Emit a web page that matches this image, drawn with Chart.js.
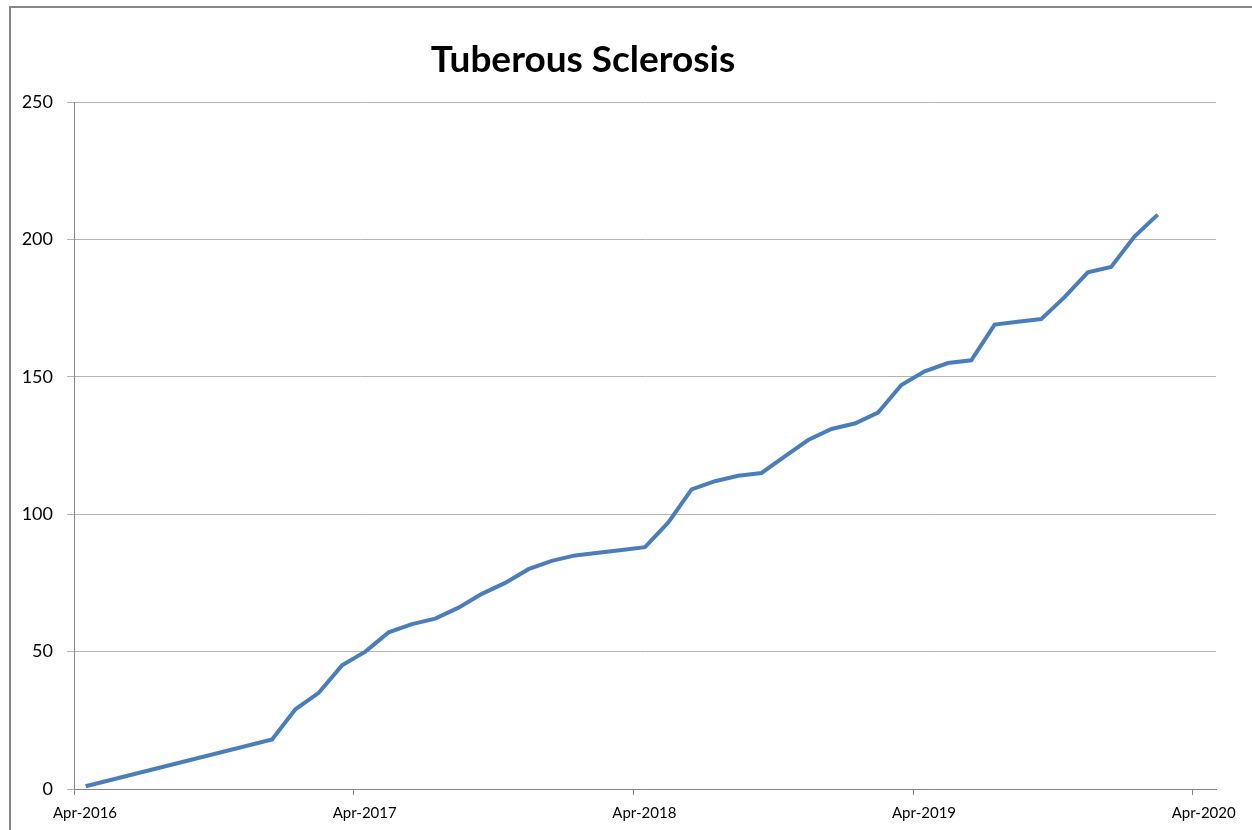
<!DOCTYPE html>
<html>
<head>
<meta charset="utf-8">
<script src="https://cdn.jsdelivr.net/npm/chart.js@4.4.1/dist/chart.umd.min.js"></script>
<style>
  html, body { margin: 0; padding: 0; background: #fff; }
  #wrap { position: relative; width: 1252px; height: 830px; overflow: hidden; }
  #frame { position: absolute; left: 9px; top: 6px; width: 1300px; height: 900px;
           border-left: 2px solid #878787; border-top: 2px solid #878787; }
  #title { position: absolute; left: 333px; top: 35px; width: 500px; text-align: center;
           font: bold 37px Lato, "Open Sans", sans-serif; color: #000; margin: 0; }
  #myChart { position: absolute; left: 0; top: 0; }
</style>
</head>
<body>
<div id="wrap">
  <div id="frame"></div>
  <canvas id="myChart" width="1252" height="830"></canvas>
  <h1 id="title">Tuberous Sclerosis</h1>
</div>
<script>
'use strict';

// months of the readings (yyyy-mm) and the cumulative count for each
let months = ['2016-04', '2016-12',
  '2017-01', '2017-02', '2017-03', '2017-04', '2017-05', '2017-06',
  '2017-07', '2017-08', '2017-09', '2017-10', '2017-11', '2017-12',
  '2018-01', '2018-02', '2018-03', '2018-04', '2018-05', '2018-06',
  '2018-07', '2018-08', '2018-09', '2018-10', '2018-11', '2018-12',
  '2019-01', '2019-02', '2019-03', '2019-04', '2019-05', '2019-06',
  '2019-07', '2019-08', '2019-09', '2019-10', '2019-11', '2019-12',
  '2020-01', '2020-02'];
let counts = [1, 18,
  29, 35, 45, 50, 57, 60,
  62, 66, 71, 75, 80, 83,
  85, 86, 87, 88, 97, 109,
  112, 114, 115, 121, 127, 131,
  133, 137, 147, 152, 155, 156,
  169, 170, 171, 179, 188, 190,
  201, 209];
let tickLabels = ['Apr-2016', 'Apr-2017', 'Apr-2018', 'Apr-2019', 'Apr-2020'];
let yTicks = [0, 50, 100, 150, 200, 250];

// x is months counted from Apr-2016, points sit mid month
function monthPos(m) {
    let parts = m.split('-');
    return (Number(parts[0]) - 2016) * 12 + (Number(parts[1]) - 4) + 0.5;
}

let points = [];
for (let i = 0; i < months.length; i++) {
    points.push({ x: monthPos(months[i]), y: counts[i] });
}

let axisGray = '#868686';
let gridGray = '#b4b4b4';

let ctx = document.getElementById('myChart').getContext('2d');
let chart = new Chart(ctx, {
    type: 'line',
    data: {
        datasets: [{
            label: 'Tuberous Sclerosis',
            data: points,
            borderColor: '#4a7ebb',
            borderWidth: 4,
            pointRadius: 0,
            tension: 0,
            fill: false
        }]
    },
    options: {
        responsive: false,
        animation: false,
        layout: { padding: { top: 102, right: 36, left: 0, bottom: 0 } },
        plugins: {
            legend: { display: false },
            tooltip: { enabled: false }
        },
        scales: {
            x: {
                type: 'linear',
                min: 0,
                max: 49,
                afterBuildTicks: function (s) {
                    s.ticks = tickLabels.map(function (t, i) { return { value: i * 12 }; });
                },
                afterFit: function (s) { s.height = 41; },
                border: { color: axisGray, width: 1 },
                grid: { drawOnChartArea: false, drawTicks: true, tickLength: 6, color: axisGray },
                ticks: {
                    padding: 9,
                    labelOffset: 11,
                    maxRotation: 0,
                    autoSkip: false,
                    color: '#000',
                    font: { family: 'Lato', size: 15 },
                    callback: function (v) { return tickLabels[Math.round(v / 12)]; }
                }
            },
            y: {
                min: 0,
                max: 250,
                afterBuildTicks: function (s) {
                    s.ticks = yTicks.map(function (v) { return { value: v }; });
                },
                afterFit: function (s) { s.width = 74; },
                border: { color: axisGray, width: 1 },
                grid: { color: gridGray, tickLength: 7 },
                ticks: {
                    padding: 14,
                    color: '#000',
                    font: { family: 'Lato', size: 18 }
                }
            }
        }
    }
});
</script>
</body>
</html>
